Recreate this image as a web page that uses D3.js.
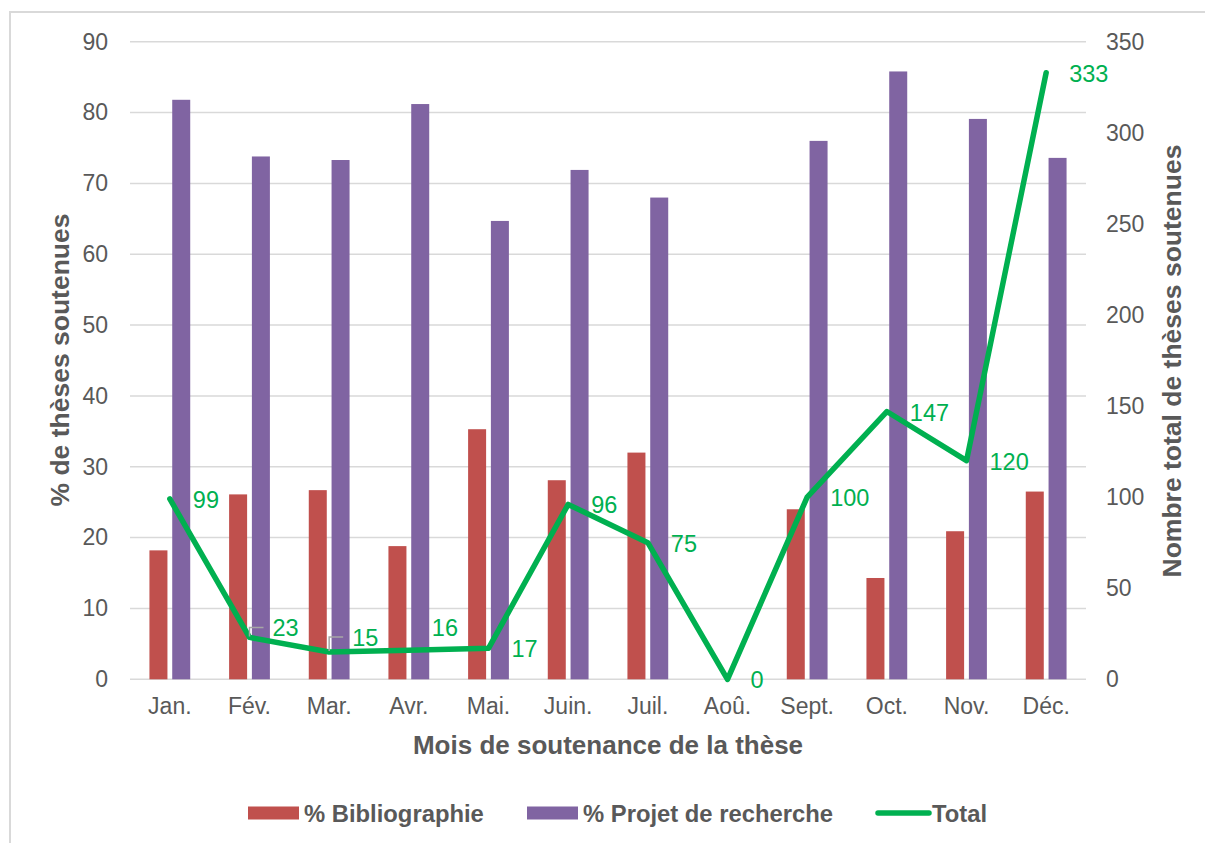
<!DOCTYPE html>
<html>
<head>
<meta charset="utf-8">
<script src="https://cdn.jsdelivr.net/npm/d3@7"></script>
<style>
  html, body { margin: 0; padding: 0; background: #fff; }
  svg { display: block; font-family: "Liberation Sans", Arial, sans-serif; }
</style>
</head>
<body>
<svg id="chart" width="1205" height="843"></svg>
<script>
// --- data ---
const months = ["Jan.", "Fév.", "Mar.", "Avr.", "Mai.", "Juin.", "Juil.", "Aoû.", "Sept.", "Oct.", "Nov.", "Déc."];
const pctBiblio = [18.2, 26.1, 26.7, 18.8, 35.3, 28.1, 32.0, 0, 24.0, 14.3, 20.9, 26.5];
const pctProjet = [81.8, 73.8, 73.3, 81.2, 64.7, 71.9, 68.0, 0, 76.0, 85.8, 79.1, 73.6];
const totals = [99, 23, 15, 16, 17, 96, 75, 0, 100, 147, 120, 333];
const leftTicks = [0, 10, 20, 30, 40, 50, 60, 70, 80, 90];
const rightTicks = [0, 50, 100, 150, 200, 250, 300, 350];

// labels that Excel nudged upward (index -> vertical shift) and those with a leader line
const labelShift = { 1: -10, 2: -15, 3: -23 };
const leaderIdx = [1, 2];

const RED = "#c0504d", PURPLE = "#8064a2", GREEN = "#00b050";
const TXT = "#595959", GRID = "#d9d9d9";

const svg = d3.select("#chart");
const m = { left: 130, right: 1086, top: 41.7, bottom: 679.3 };

// outer chart border
svg.append("rect")
    .attr("x", 10).attr("y", 12)
    .attr("width", 1205).attr("height", 843)
    .attr("fill", "none").attr("stroke", GRID).attr("stroke-width", 2);

const x = d3.scaleBand().domain(months).range([m.left, m.right]);
const yL = d3.scaleLinear().domain([0, 90]).range([m.bottom, m.top]);
const yR = d3.scaleLinear().domain([0, 350]).range([m.bottom, m.top]);

// gridlines
svg.append("g").selectAll("line")
    .data(leftTicks)
    .join("line")
    .attr("x1", m.left).attr("x2", m.right)
    .attr("y1", d => yL(d)).attr("y2", d => yL(d))
    .attr("stroke", GRID).attr("stroke-width", 1.5);

// left axis
const axL = svg.append("g")
    .attr("transform", `translate(${m.left},0)`)
    .call(d3.axisLeft(yL).tickValues(leftTicks).tickSize(0).tickPadding(22));
axL.select(".domain").remove();
axL.selectAll("text").attr("fill", TXT).style("font-size", "23px")
    .style("font-family", "'Liberation Sans', Arial, sans-serif");

// right axis
const axR = svg.append("g")
    .attr("transform", `translate(${m.right},0)`)
    .call(d3.axisRight(yR).tickValues(rightTicks).tickSize(0).tickPadding(20));
axR.select(".domain").remove();
axR.selectAll("text").attr("fill", TXT).style("font-size", "23px")
    .style("font-family", "'Liberation Sans', Arial, sans-serif");

// bottom axis
const axB = svg.append("g")
    .attr("transform", `translate(0,${m.bottom})`)
    .call(d3.axisBottom(x).tickSize(0).tickPadding(18));
axB.select(".domain").remove();
axB.selectAll("text").attr("fill", TXT).style("font-size", "23px")
    .style("font-family", "'Liberation Sans', Arial, sans-serif");

// bars
const bw = x.bandwidth() * 0.226;
const gap = x.bandwidth() * 0.03;
const cx = d => x(d) + x.bandwidth() / 2;

svg.append("g").selectAll("rect")
    .data(months)
    .join("rect")
    .attr("x", d => cx(d) - gap - bw)
    .attr("y", (d, i) => yL(pctBiblio[i]))
    .attr("width", bw)
    .attr("height", (d, i) => m.bottom - yL(pctBiblio[i]))
    .attr("fill", RED);

svg.append("g").selectAll("rect")
    .data(months)
    .join("rect")
    .attr("x", d => cx(d) + gap)
    .attr("y", (d, i) => yL(pctProjet[i]))
    .attr("width", bw)
    .attr("height", (d, i) => m.bottom - yL(pctProjet[i]))
    .attr("fill", PURPLE);

// total line
const line = d3.line()
    .x((d, i) => cx(months[i]))
    .y(d => yR(d));

svg.append("path")
    .datum(totals)
    .attr("d", line)
    .attr("fill", "none")
    .attr("stroke", GREEN)
    .attr("stroke-width", 5.5)
    .attr("stroke-linejoin", "round")
    .attr("stroke-linecap", "round");

// leader lines for nudged labels
svg.append("g").selectAll("path")
    .data(leaderIdx)
    .join("path")
    .attr("d", i => {
        const px = cx(months[i]), py = yR(totals[i]);
        const ly = py + labelShift[i];
        return `M${px},${py - 1}V${ly}H${px + 14}`;
    })
    .attr("fill", "none")
    .attr("stroke", "#a6a6a6")
    .attr("stroke-width", 1.5);

// data labels
svg.append("g").selectAll("text")
    .data(totals)
    .join("text")
    .attr("x", (d, i) => cx(months[i]) + 23)
    .attr("y", (d, i) => yR(d) + (labelShift[i] || 0) + 1)
    .attr("dominant-baseline", "central")
    .attr("fill", GREEN)
    .style("font-size", "23.5px")
    .text(d => d);

// axis titles
svg.append("text")
    .attr("x", (m.left + m.right) / 2).attr("y", 754)
    .attr("text-anchor", "middle")
    .attr("fill", TXT).style("font-size", "26px").style("font-weight", "bold")
    .text("Mois de soutenance de la thèse");

svg.append("text")
    .attr("transform", `translate(69,360) rotate(-90)`)
    .attr("text-anchor", "middle")
    .attr("fill", TXT).style("font-size", "26.5px").style("font-weight", "bold")
    .text("% de thèses soutenues");

svg.append("text")
    .attr("transform", `translate(1181,361) rotate(-90)`)
    .attr("text-anchor", "middle")
    .attr("fill", TXT).style("font-size", "26.5px").style("font-weight", "bold")
    .text("Nombre total de thèses soutenues");

// legend
const legend = [
    { name: "% Bibliographie", color: RED, type: "bar", x: 248 },
    { name: "% Projet de recherche", color: PURPLE, type: "bar", x: 527 },
    { name: "Total", color: GREEN, type: "line", x: 876 }
];
const lg = svg.append("g").selectAll("g")
    .data(legend)
    .join("g")
    .attr("transform", d => `translate(${d.x},813)`);

lg.filter(d => d.type === "bar").append("rect")
    .attr("x", 0).attr("y", -6.5).attr("width", 51).attr("height", 13)
    .attr("fill", d => d.color);

lg.filter(d => d.type === "line").append("line")
    .attr("x1", 2).attr("x2", 53).attr("y1", 0).attr("y2", 0)
    .attr("stroke", d => d.color).attr("stroke-width", 5.5).attr("stroke-linecap", "round");

lg.append("text")
    .attr("x", 56).attr("y", 0)
    .attr("dominant-baseline", "central")
    .attr("fill", TXT).style("font-size", "23.8px").style("font-weight", "bold")
    .text(d => d.name);
</script>
</body>
</html>
